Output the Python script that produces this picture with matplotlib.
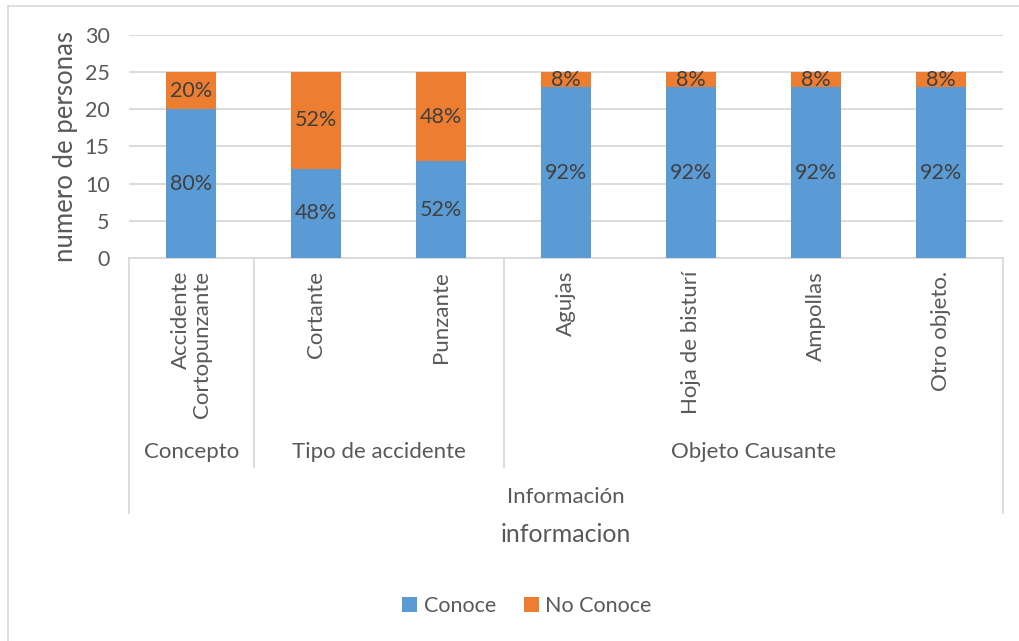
import matplotlib
matplotlib.use("Agg")
import matplotlib.pyplot as plt
from matplotlib.lines import Line2D
import matplotlib.transforms as mtrans

categories = ["Accidente\nCortopunzante", "Cortante", "Punzante", "Agujas",
              "Hoja de bisturí", "Ampollas", "Otro objeto."]
groups = ["Concepto", "Tipo de accidente", "Objeto Causante"]
group_sizes = [1, 2, 4]
top_group = "Información"
conoce = [20, 12, 13, 23, 23, 23, 23]
no_conoce = [5, 13, 12, 2, 2, 2, 2]
conoce_lbl = ["80%", "48%", "52%", "92%", "92%", "92%", "92%"]
no_conoce_lbl = ["20%", "52%", "48%", "8%", "8%", "8%", "8%"]
yticks = [0, 5, 10, 15, 20, 25, 30]

plt.rcParams['font.family'] = ['Lato', 'DejaVu Sans']
TXT = "#595959"
GRID = "#D9D9D9"
BLUE = "#5B9BD5"
ORANGE = "#ED7D31"

W, H = 1019, 641
fig = plt.figure(figsize=(W / 100, H / 100), dpi=100)
fig.patch.set_facecolor("white")

L, R, T, B = 129, 1003, 35, 258
ax = fig.add_axes([L / W, 1 - B / H, (R - L) / W, (B - T) / H])
x = list(range(len(categories)))
b1 = ax.bar(x, conoce, width=0.4, color=BLUE, label="Conoce", zorder=3)
b2 = ax.bar(x, no_conoce, width=0.4, bottom=conoce, color=ORANGE, label="No Conoce", zorder=3)
ax.set_xlim(-0.5, len(categories) - 0.5)
ax.set_ylim(0, 30)
ax.set_yticks(yticks)
ax.set_yticklabels([str(v) for v in yticks], fontsize=15.5, color=TXT)
ax.tick_params(axis='y', length=0, pad=14)
ax.tick_params(axis='x', length=0, labelbottom=False)
ax.grid(axis='y', color=GRID, linewidth=1.3, zorder=0)
for s in ["top", "right", "left"]:
    ax.spines[s].set_visible(False)
ax.spines["bottom"].set_color(GRID)
ax.spines["bottom"].set_linewidth(1.3)

for i in x:
    ax.text(i, conoce[i] / 2, conoce_lbl[i], ha='center', va='center',
            fontsize=15.5, color="#404040", zorder=4)
    ax.text(i, conoce[i] + no_conoce[i] / 2, no_conoce_lbl[i], ha='center',
            va='center', fontsize=15.5, color="#404040", zorder=4)

ax.set_ylabel("numero de personas", fontsize=18.5, color=TXT, labelpad=5)

def py(p):
    return 1 - p / H

trans = mtrans.blended_transform_factory(ax.transData, fig.transFigure)
for i, c in enumerate(categories):
    ax.text(i, py(271), c, rotation=90, ha='center', va='top', multialignment='right',
            fontsize=16, color=TXT, transform=trans, linespacing=1.05)

start = 0
bounds = [-0.5]
for g, n in zip(groups, group_sizes):
    cx = start + (n - 1) / 2
    ax.text(cx, py(452), g, ha='center', va='center', fontsize=16,
            color=TXT, transform=trans)
    start += n
    bounds.append(start - 0.5)

for k, bx in enumerate(bounds):
    bottom = 513 if k in (0, len(bounds) - 1) else 467
    fig.add_artist(Line2D([bx, bx], [py(258), py(bottom)], color=GRID,
                          linewidth=1.3, transform=trans))

ax.text((len(categories) - 1) / 2, py(497), top_group, ha='center', va='center',
        fontsize=16, color=TXT, transform=trans)
fig.text((L + R) / 2 / W, py(535), "informacion", ha='center', va='center',
         fontsize=18, color=TXT)

leg = fig.legend(handles=[b1, b2], loc='center', bbox_to_anchor=(527 / W, py(606)),
                 ncol=2, frameon=False, fontsize=15.5, handlelength=0.7,
                 handleheight=0.7, handletextpad=0.3, columnspacing=1.3)
for t in leg.get_texts():
    t.set_color(TXT)

fig.add_artist(Line2D([8 / W, 8 / W], [py(6), py(641)], color=GRID, linewidth=1.2))
fig.add_artist(Line2D([8 / W, 1], [py(6), py(6)], color=GRID, linewidth=1.2))

fig.savefig("out.png", dpi=100)
